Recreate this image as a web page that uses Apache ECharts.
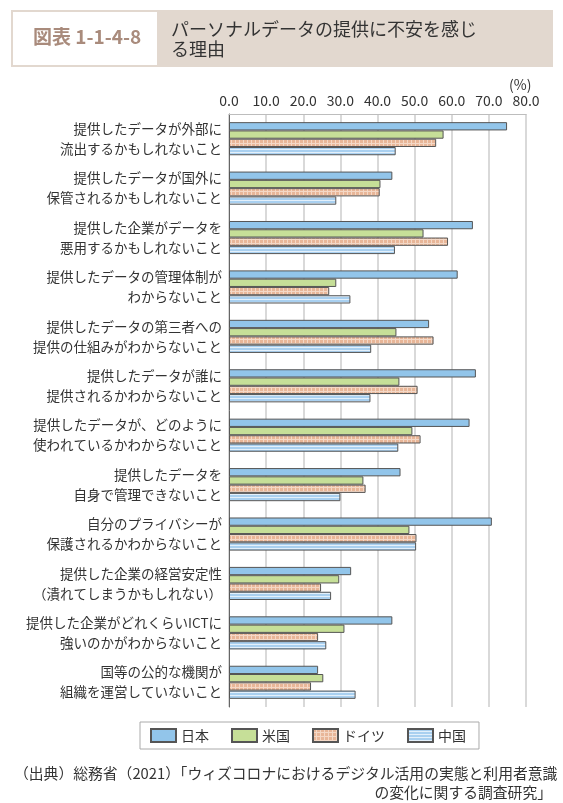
<!DOCTYPE html>
<html><head><meta charset="utf-8">
<script src="https://cdn.jsdelivr.net/npm/echarts@6/dist/echarts.min.js"></script>
<style>html,body{margin:0;padding:0;background:#fff}#c{width:563px;height:803px}</style>
</head><body><div id="c"></div>
<script>
const categories = [
  '提供したデータが外部に\n流出するかもしれないこと',
  '提供したデータが国外に\n保管されるかもしれないこと',
  '提供した企業がデータを\n悪用するかもしれないこと',
  '提供したデータの管理体制が\nわからないこと',
  '提供したデータの第三者への\n提供の仕組みがわからないこと',
  '提供したデータが誰に\n提供されるかわからないこと',
  '提供したデータが、どのように\n使われているかわからないこと',
  '提供したデータを\n自身で管理できないこと',
  '自分のプライバシーが\n保護されるかわからないこと',
  '提供した企業の経営安定性\n（潰れてしまうかもしれない）',
  '提供した企業がどれくらいICTに\n強いのかがわからないこと',
  '国等の公的な機関が\n組織を運営していないこと'
];
const seriesNames = ['日本', '米国', 'ドイツ', '中国'];
const japan   = [74.9, 44.0, 65.7, 61.6, 53.9, 66.5, 64.8, 46.2, 70.8, 32.9, 44.0, 24.0];
const usa     = [57.8, 40.8, 52.4, 28.9, 45.1, 45.9, 49.4, 36.2, 48.6, 29.7, 31.1, 25.4];
const germany = [55.8, 40.6, 59.0, 27.0, 55.1, 50.8, 51.6, 36.8, 50.5, 24.8, 24.0, 22.1];
const china   = [44.9, 28.9, 44.7, 32.7, 38.3, 38.1, 45.6, 30.0, 50.4, 27.5, 26.2, 34.1];
const xTicks = [0, 10, 20, 30, 40, 50, 60, 70, 80];

function makePattern(w, h, draw) {
  const c = document.createElement('canvas');
  c.width = w; c.height = h;
  const ctx = c.getContext('2d');
  draw(ctx);
  return { image: c, repeat: 'repeat' };
}
const orangePat = makePattern(4, 4, ctx => {
  ctx.fillStyle = '#e8b698'; ctx.fillRect(0, 0, 4, 4);
  ctx.fillStyle = '#f4d8c6'; ctx.fillRect(3, 0, 1, 4); ctx.fillRect(0, 3, 4, 1);
});
const chinaPat = makePattern(4, 3, ctx => {
  ctx.fillStyle = '#a9d0f0'; ctx.fillRect(0, 0, 4, 3);
  ctx.fillStyle = '#e3f0fb'; ctx.fillRect(0, 2, 4, 1);
});
const fills = ['#92c5ea', '#c6df98', orangePat, chinaPat];
const data = [japan, usa, germany, china];

const chart = echarts.init(document.getElementById('c'), null, { renderer: 'canvas' });
const FONT = "'Noto Sans CJK JP', 'Noto Sans', sans-serif";
chart.setOption({
  animation: false,
  textStyle: { fontFamily: FONT },
  grid: { left: 229, right: 37, top: 114, bottom: 96, containLabel: false },
  xAxis: {
    type: 'value', position: 'top', min: 0, max: 80, interval: 10,
    axisLine: { show: true, lineStyle: { color: '#bdbdbd', width: 1 } },
    axisTick: { show: false },
    axisLabel: { color: '#333', fontSize: 14, margin: 6, fontFamily: FONT,
      formatter: v => xTicks.includes(v) ? v.toFixed(1) : '' },
    splitLine: { show: true, lineStyle: { color: '#cdcdcd', width: 1.5 } }
  },
  yAxis: {
    type: 'category', data: categories, inverse: true,
    axisLine: { show: true, lineStyle: { color: '#666', width: 1 } },
    axisTick: { show: false },
    axisLabel: { color: '#333', fontSize: 13.5, lineHeight: 20, margin: 7, align: 'right', fontFamily: FONT }
  },
  legend: {
    show: true, left: 140, top: 722, orient: 'horizontal', icon: 'rect',
    itemWidth: 25, itemHeight: 13, itemGap: 22,
    padding: [6, 13, 6, 10],
    borderColor: '#aaa', borderWidth: 1,
    textStyle: { color: '#333', fontSize: 14, fontFamily: FONT },
    data: seriesNames
  },
  series: seriesNames.map((n, i) => ({
    name: n, type: 'bar', data: data[i],
    barGap: '0%', barCategoryGap: '33%',
    itemStyle: { color: fills[i], borderColor: '#555', borderWidth: 1 }
  })),
  graphic: [
    { type: 'rect', shape: { x: 11, y: 10, width: 542, height: 57 }, style: { fill: '#e2d8cf' } },
    { type: 'rect', shape: { x: 13, y: 12, width: 144, height: 53 }, style: { fill: '#fff' } },
    { type: 'text', left: 33, top: 27, style: { text: '図表 1-1-4-8', fill: '#a98b7c', font: "bold 19px " + FONT } },
    { type: 'text', left: 171, top: 19, style: { text: 'パーソナルデータの提供に不安を感じ\nる理由', fill: '#333', font: "18px " + FONT, lineHeight: 20 } },
    { type: 'text', left: 509, top: 78, style: { text: '(%)', fill: '#333', font: "14px " + FONT } },
    { type: 'text', left: 14, top: 766, style: { text: '（出典）総務省（2021）「ウィズコロナにおけるデジタル活用の実態と利用者意識', fill: '#333', font: "14.8px " + FONT } },
    { type: 'text', right: 11, top: 785, style: { text: 'の変化に関する調査研究」', fill: '#333', font: "14.8px " + FONT } }
  ]
});
</script></body></html>
